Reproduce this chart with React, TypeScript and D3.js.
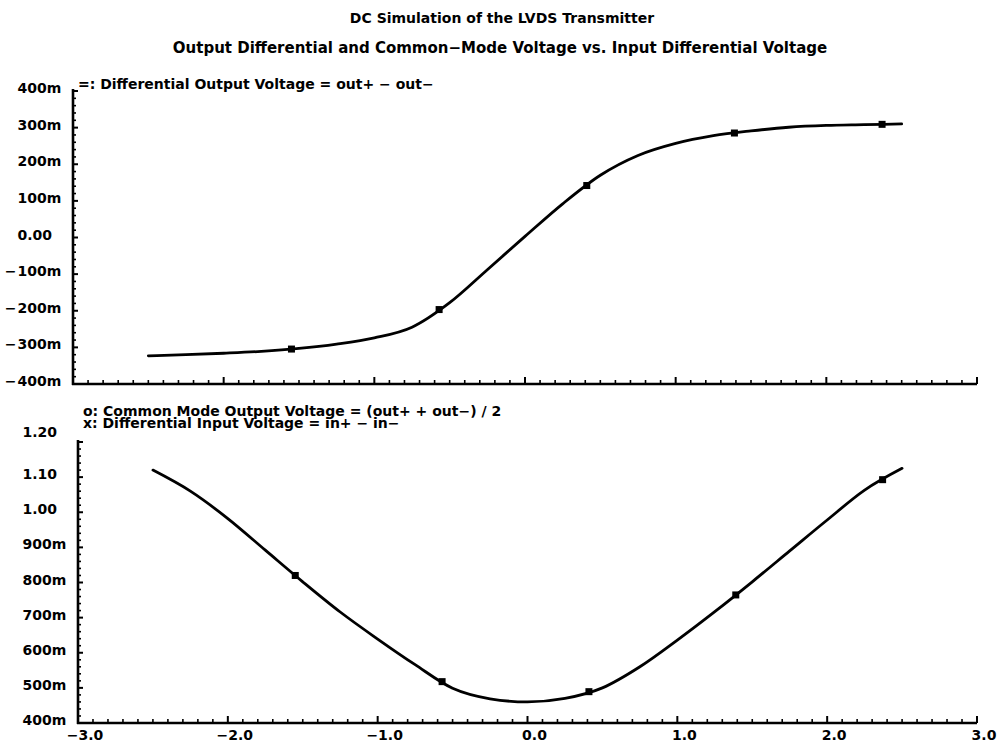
import React from "react";
import * as d3 from "d3";

const W = 1003;
const H = 745;

// Input differential voltage (x) samples
const xValues = [
  -2.5, -2.25, -2.0, -1.75, -1.5, -1.25, -1.0, -0.75, -0.5, -0.25, 0.0,
  0.25, 0.5, 0.75, 1.0, 1.25, 1.5, 1.75, 2.0, 2.25, 2.5,
];
// Differential output voltage = out+ - out-
const diffOut = [
  -0.323, -0.320, -0.316, -0.311, -0.303, -0.291, -0.274, -0.245, -0.178,
  -0.088, 0.003, 0.092, 0.170, 0.224, 0.257, 0.278, 0.291, 0.301, 0.306, 0.308,
  0.310,
];
// Common mode output voltage = (out+ + out-) / 2
const commonMode = [
  1.120, 1.060, 0.982, 0.892, 0.802, 0.716, 0.639, 0.566, 0.499, 0.469, 0.460,
  0.470, 0.500, 0.560, 0.636, 0.717, 0.802, 0.890, 0.978, 1.063, 1.125,
];
const markerX = [-1.55, -0.57, 0.41, 1.39, 2.37];

const xTickValues = [-3, -2, -1, 0, 1, 2, 3];
const xTickLabels = ["−3.0", "−2.0", "−1.0", "0.0", "1.0", "2.0", "3.0"];
const topYTicks = [0.4, 0.3, 0.2, 0.1, 0.0, -0.1, -0.2, -0.3, -0.4];
const topYLabels = ["400m", "300m", "200m", "100m", "0.00", "−100m", "−200m", "−300m", "−400m"];
const botYTicks = [1.2, 1.1, 1.0, 0.9, 0.8, 0.7, 0.6, 0.5, 0.4];
const botYLabels = ["1.20", "1.10", "1.00", "900m", "800m", "700m", "600m", "500m", "400m"];

const titleText = "DC Simulation of the LVDS Transmitter";
const subtitleText = "Output Differential and Common−Mode Voltage vs. Input Differential Voltage";
const topLegend = ["=: Differential Output Voltage = out+ − out−"];
const botLegend = [
  "o: Common Mode Output Voltage = (out+ + out−) / 2",
  "x: Differential Input Voltage = in+ − in−",
];

const FONT = "'DejaVu Sans', Verdana, sans-serif";

type PanelProps = {
  x0: number;
  x1: number;
  yBottom: number;
  yTop: number;
  yDomain: [number, number];
  yTicks: number[];
  yLabels: string[];
  yMinorStep: number;
  topLabelDy: number;
  values: number[];
  showXLabels: boolean;
  legend: string[];
  legendY: number;
  legendGap: number;
};

function Panel(p: PanelProps) {
  const x = d3.scaleLinear().domain([-3, 3]).range([p.x0, p.x1]);
  const y = d3.scaleLinear().domain(p.yDomain).range([p.yBottom, p.yTop]);
  const interp = d3.scaleLinear<number>().domain(xValues).range(p.values);
  const line = d3
    .line<number>()
    .x((_, i) => x(xValues[i]))
    .y((d) => y(d))
    .curve(d3.curveMonotoneX);

  const xMinor = d3.range(-30, 31).map((k) => k / 10).filter((v) => Math.abs(v - Math.round(v)) > 1e-6);
  const nY = Math.round((p.yDomain[1] - p.yDomain[0]) / p.yMinorStep);
  const yMinor = d3
    .range(0, nY + 1)
    .map((k) => p.yDomain[0] + k * p.yMinorStep)
    .filter((v) => !p.yTicks.some((t) => Math.abs(t - v) < 1e-6));

  const labelX = p.x0 - 55.5;

  return (
    <g>
      {/* axes */}
      <line x1={p.x0} x2={p.x0} y1={y(p.yDomain[1]) - 2} y2={p.yBottom + 1} stroke="#000" strokeWidth={2.6} />
      <line x1={p.x0 - 1} x2={p.x1} y1={p.yBottom} y2={p.yBottom} stroke="#000" strokeWidth={2.6} />
      {/* x ticks */}
      {xTickValues.map((v) => (
        <line key={"xm" + v} x1={x(v)} x2={x(v)} y1={p.yBottom} y2={p.yBottom - 7} stroke="#000" strokeWidth={2} />
      ))}
      {xMinor.map((v) => (
        <line key={"xn" + v} x1={x(v)} x2={x(v)} y1={p.yBottom} y2={p.yBottom - 4} stroke="#000" strokeWidth={1.6} />
      ))}
      {/* y ticks */}
      {p.yTicks.map((v) => (
        <line key={"ym" + v} x1={p.x0} x2={p.x0 + 5} y1={y(v)} y2={y(v)} stroke="#000" strokeWidth={2} />
      ))}
      {yMinor.map((v) => (
        <line key={"yn" + v} x1={p.x0} x2={p.x0 + 3} y1={y(v)} y2={y(v)} stroke="#000" strokeWidth={1.6} />
      ))}
      {/* y labels */}
      {p.yTicks.map((v, i) => {
        const lab = p.yLabels[i];
        const neg = lab.startsWith("−");
        const body = neg ? lab.slice(1) : lab;
        const by = y(v) + (i === 0 ? p.topLabelDy : 2);
        return (
          <g key={"yl" + v}>
            {neg && (
              <text x={labelX - 1} y={by} textAnchor="end" fontFamily={FONT} fontWeight="bold" fontSize={14}>
                −
              </text>
            )}
            <text x={labelX} y={by} textAnchor="start" fontFamily={FONT} fontWeight="bold" fontSize={14}>
              {body}
            </text>
          </g>
        );
      })}
      {/* x labels */}
      {p.showXLabels &&
        xTickValues.map((v, i) => (
          <text key={"xl" + v} x={x(v) + 7} y={p.yBottom + 17} textAnchor="middle" fontFamily={FONT} fontWeight="bold" fontSize={14}>
            {xTickLabels[i]}
          </text>
        ))}
      {/* curve */}
      <path d={line(p.values) || ""} fill="none" stroke="#000" strokeWidth={2.8} strokeLinejoin="round" strokeLinecap="round" />
      {/* markers */}
      {markerX.map((mx) => (
        <rect key={"mk" + mx} x={x(mx) - 3.5} y={y(interp(mx)) - 3.5} width={7} height={7} fill="#000" />
      ))}
      {/* legend */}
      {p.legend.map((t, i) => (
        <text key={"lg" + i} x={p.x0 + 5} y={p.legendY + i * p.legendGap} fontFamily={FONT} fontWeight="bold" fontSize={14}>
          {t}
        </text>
      ))}
    </g>
  );
}

export default function App() {
  return (
    <svg
      width={W}
      height={H}
      viewBox={`0 0 ${W} ${H}`}
      style={{ position: "absolute", left: 0, top: 0, background: "#fff" }}
    >
      <rect x={0} y={0} width={W} height={H} fill="#fff" />
      <text x={502} y={23} textAnchor="middle" fontFamily={FONT} fontWeight="bold" fontSize={14}>
        {titleText}
      </text>
      <text x={500} y={53} textAnchor="middle" fontFamily={FONT} fontWeight="bold" fontSize={15}>
        {subtitleText}
      </text>
      <Panel
        x0={73}
        x1={977}
        yBottom={384}
        yTop={91}
        yDomain={[-0.4, 0.4]}
        yTicks={topYTicks}
        yLabels={topYLabels}
        yMinorStep={0.02}
        topLabelDy={2}
        values={diffOut}
        showXLabels={false}
        legend={topLegend}
        legendY={89}
        legendGap={11}
      />
      <Panel
        x0={78}
        x1={977}
        yBottom={723}
        yTop={442}
        yDomain={[0.4, 1.2]}
        yTicks={botYTicks}
        yLabels={botYLabels}
        yMinorStep={0.02}
        topLabelDy={-5}
        values={commonMode}
        showXLabels={true}
        legend={botLegend}
        legendY={416}
        legendGap={11.5}
      />
    </svg>
  );
}
